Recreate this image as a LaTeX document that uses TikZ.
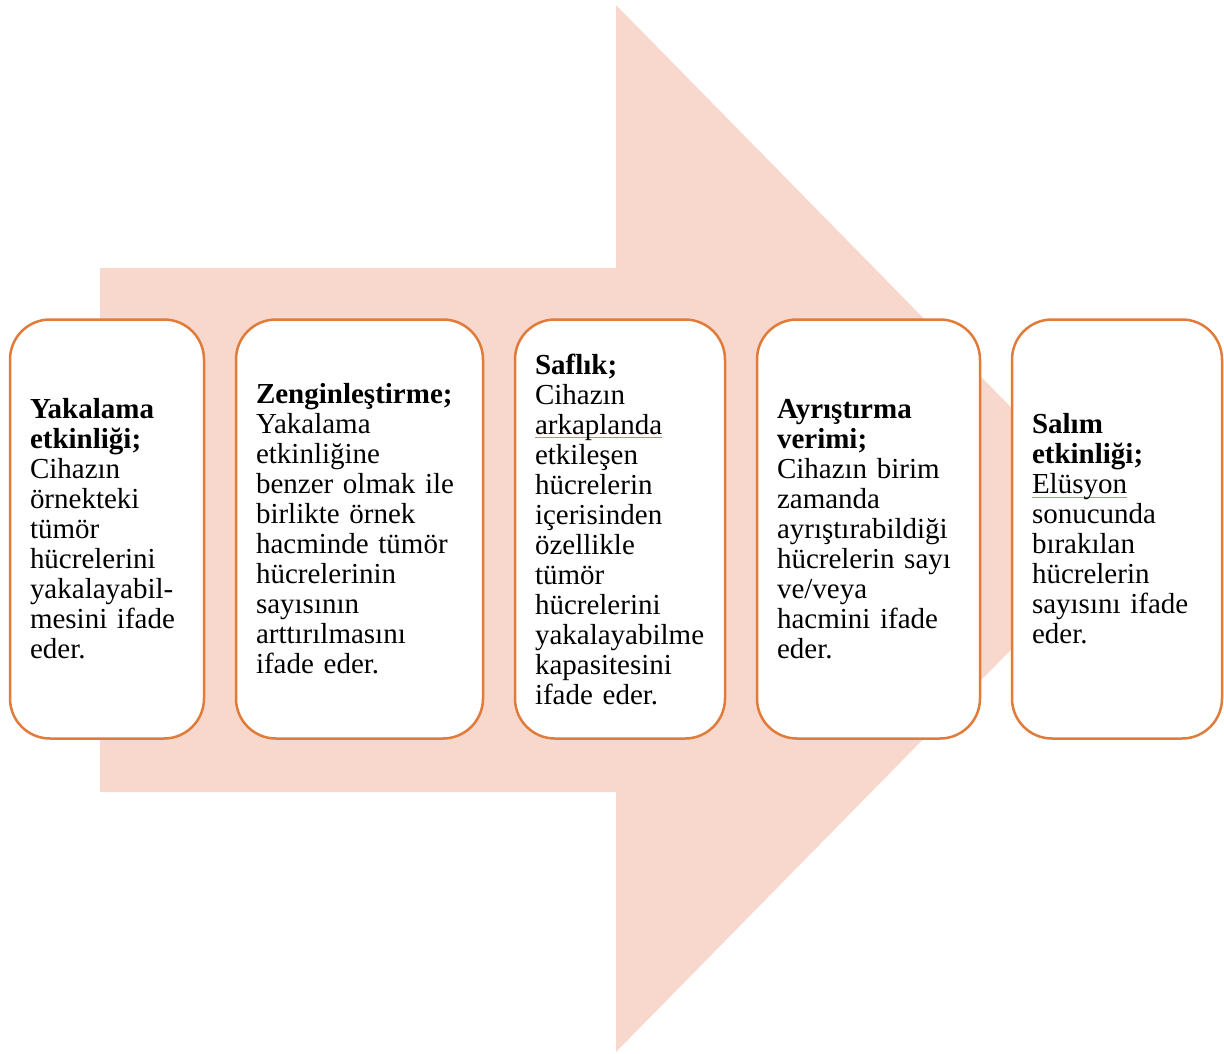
\documentclass[tikz,border=0pt]{standalone}
\usepackage{fontspec}
\setmainfont{Liberation Serif}
\definecolor{arrowfill}{RGB}{248,215,204}
\definecolor{boxline}{RGB}{224,123,57}
\definecolor{squigcol}{RGB}{235,120,135}
\newcommand{\hd}{\bfseries}
\newcommand{\stagefont}{\fontsize{29}{30}\selectfont\spaceskip=0.25em\relax}
\newcommand{\spellmark}[1]{\leavevmode\setbox0\hbox{#1}\rlap{\textcolor{squigcol}{\rule[-4pt]{\wd0}{1pt}}}\box0}

\begin{document}
\begin{tikzpicture}[x=1pt, y=-1pt]
        \tikzstyle{stage}=[draw=boxline, line width=2.5pt, fill=white, shape=rectangle, rounded corners=40pt, minimum height=419pt, inner xsep=20pt, inner ysep=0pt, align=left, font=\stagefont];
        \useasboundingbox (0,0) rectangle (1224,1053);

        % big arrow behind the boxes
        \fill[arrowfill] (100,268) -- (616,268) -- (616,5) -- (1130,528.5)
                -- (616,1052) -- (616,792) -- (100,792) -- cycle;

        % stage 1
        \node[stage, text width=154pt] (s1) at (107,529) {{\hd Yakalama}\\{\hd etkinliği;}\\Cihazın\\örnekteki\\tümör\\hücrelerini\\yakalayabil-\\mesini ifade\\eder.};

        % stage 2
        \node[stage, text width=207pt] (s2) at (359.5,529) {{\hd Zenginleştirme;}\\Yakalama\\etkinliğine\\benzer olmak ile\\birlikte örnek\\hacminde tümör\\hücrelerinin\\sayısının\\arttırılmasını\\ifade eder.};

        % stage 3
        \node[stage, text width=170pt] (s3) at (620,529) {{\hd Saflık;}\\Cihazın\\\spellmark{arkaplanda}\\etkileşen\\hücrelerin\\içerisinden\\özellikle\\tümör\\hücrelerini\\yakalayabilme\\kapasitesini\\ifade eder.};

        % stage 4
        \node[stage, text width=183pt] (s4) at (868.5,529) {{\hd Ayrıştırma}\\{\hd verimi;}\\Cihazın birim\\zamanda\\ayrıştırabildiği\\hücrelerin sayı\\ve/veya\\hacmini ifade\\eder.};

        % stage 5
        \node[stage, text width=170pt] (s5) at (1117,529) {{\hd Salım}\\{\hd etkinliği;}\\\spellmark{Elüsyon}\\sonucunda\\bırakılan\\hücrelerin\\sayısını ifade\\eder.};
\end{tikzpicture}
\end{document}
